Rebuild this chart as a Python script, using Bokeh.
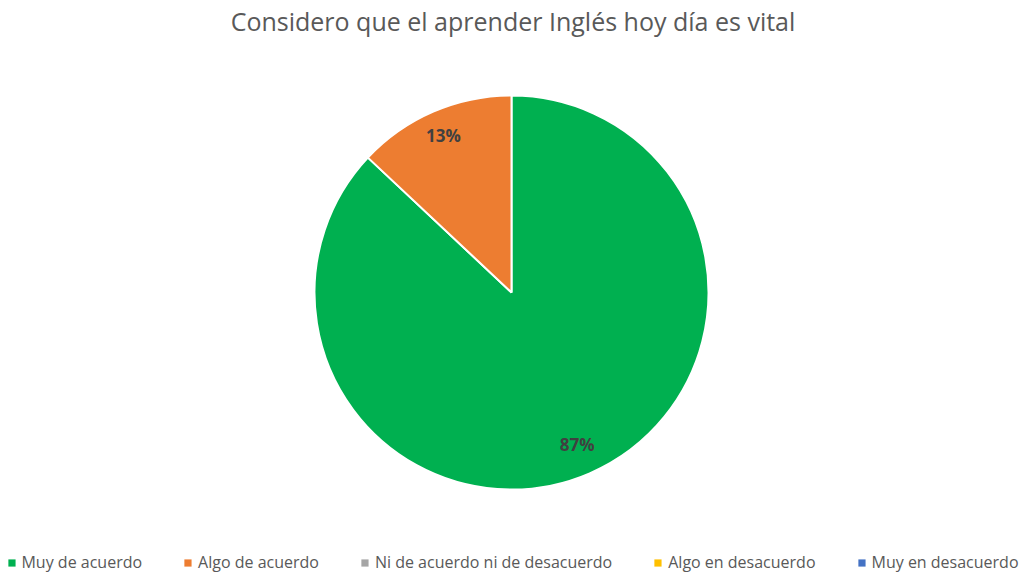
import math
from bokeh.plotting import figure
from bokeh.models import Range1d, ColumnDataSource, Legend, LegendItem
from bokeh.core.properties import value
from bokeh.embed import file_html
from bokeh.resources import INLINE

title = "Considero que el aprender Inglés hoy día es vital"
categories = ["Muy de acuerdo", "Algo de acuerdo", "Ni de acuerdo ni de desacuerdo",
              "Algo en desacuerdo", "Muy en desacuerdo"]
percent = [87, 13, 0, 0, 0]
colors = ["#00B050", "#ED7D31", "#A5A5A5", "#FFC000", "#4472C4"]

W, H = 1025, 573
p = figure(width=W, height=H, output_backend="svg", toolbar_location=None,
           x_range=Range1d(0, W), y_range=Range1d(0, H), min_border=0)
p.axis.visible = False
p.grid.visible = False
p.outline_line_color = None
p.background_fill_color = "white"

cx, cy, r = 511, H - 292, 197
label_frac = [0.84, 0.87, 0.85, 0.85, 0.85]
total = sum(percent)
cum = 0.0
items = []
for i, (cat, v, col) in enumerate(zip(categories, percent, colors)):
    frac0 = cum / total
    frac1 = (cum + v) / total
    cum += v
    if v > 0:
        src = ColumnDataSource(dict(x=[cx], y=[cy],
                                    start=[math.pi / 2 - frac1 * 2 * math.pi],
                                    end=[math.pi / 2 - frac0 * 2 * math.pi]))
        p.wedge(x="x", y="y", radius=r, start_angle="start", end_angle="end",
                source=src, fill_color=col, line_color="white", line_width=2)
        mid = math.pi / 2 - (frac0 + frac1) / 2 * 2 * math.pi
        lx = cx + r * label_frac[i] * math.cos(mid)
        ly = cy + r * label_frac[i] * math.sin(mid)
        p.text(x=[lx], y=[ly], text=[f"{v}%"], text_align="center", text_baseline="middle",
               text_font=value("Open Sans"), text_font_size="17px", text_font_style="bold",
               text_color="#404040")
    # legend-only renderer (zero size, never visible in the plot)
    lrend = p.wedge(x=[cx], y=[cy], radius=0, start_angle=0, end_angle=0,
                    fill_color=col, line_color=None)
    items.append(LegendItem(label=cat, renderers=[lrend]))

p.text(x=[W / 2], y=[H - 20], text=[title], text_align="center", text_baseline="middle",
       text_font=value("Open Sans"), text_font_size="25px", text_color="#595959")

legend = Legend(items=items, orientation="horizontal", location="bottom_center",
                margin=0, padding=0, spacing=41, glyph_width=9, glyph_height=9,
                label_height=16, label_standoff=6, label_text_font="Open Sans",
                label_text_font_size="16px", label_text_color="#595959",
                border_line_color=None, background_fill_alpha=0)
p.add_layout(legend)

open("out.html", "w").write(file_html(p, INLINE))
